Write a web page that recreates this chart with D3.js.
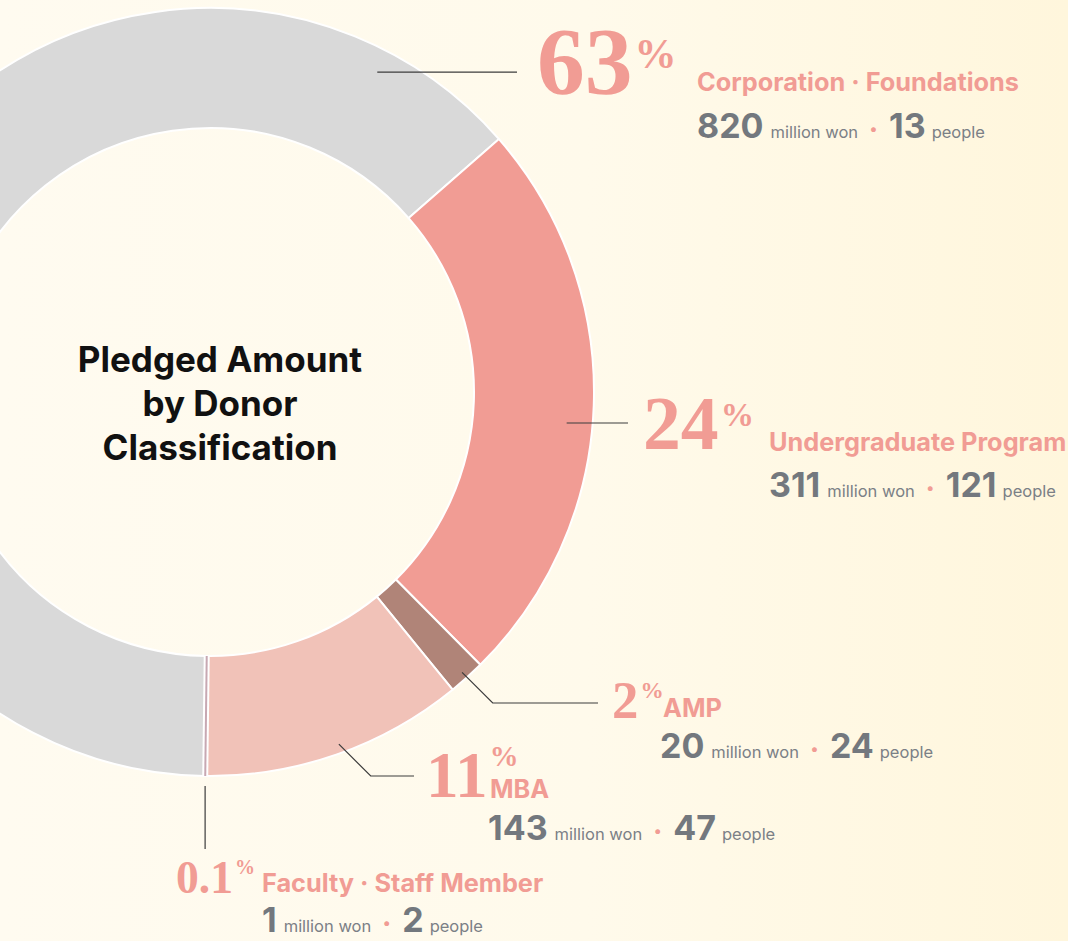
<!DOCTYPE html>
<html>
<head>
<meta charset="utf-8">
<script src="https://cdn.jsdelivr.net/npm/d3@7"></script>
<style>
  body { margin: 0; background: #fffaee; }
  svg { display: block; }
  .title { font-family: Inter, "Noto Sans", sans-serif; font-weight: 700; font-size: 35px; fill: #111; }
  .pctNum { font-family: "Liberation Serif", "DejaVu Serif", serif; font-weight: 700; fill: #f19c94; }
  .catLabel { font-family: Inter, "Noto Sans", sans-serif; font-weight: 700; font-size: 25.3px; fill: #f19c94; }
  .statNum { font-family: Inter, "Noto Sans", sans-serif; font-weight: 700; font-size: 34px; fill: #73787e; }
  .statUnit { font-family: Inter, "Noto Sans", sans-serif; font-weight: 400; font-size: 16.5px; fill: #7b8086; }
  .statDot { font-family: Inter, "Noto Sans", sans-serif; font-weight: 900; font-size: 24px; fill: #f19c94; }
</style>
</head>
<body>
<div id="chart"></div>
<script>
// data
var categories = ["Corporation · Foundations", "Undergraduate Program", "AMP", "MBA", "Faculty · Staff Member"];
var amounts = [820, 311, 20, 143, 1];          // million won
var percents = ["63", "24", "2", "11", "0.1"];  // printed share
var people = [13, 121, 24, 47, 2];
var colors = ["#d9d9d9", "#f19c94", "#b08478", "#f1c2b8", "#c7a8b2"];

// label placement (t = position along the slice, r = radius of leader start)
var labelLayout = [
    { t: 0.907, r: 361, kind: "h", endX: 517, numX: 537, numY: 94, labelX: 697, labelY: 91, statX: 697, statY: 138 },
    { t: 0.534, r: 358, kind: "h", endX: 628, numX: 643, numY: 449, labelX: 769, labelY: 451, statX: 769, statY: 497 },
    { t: 0.5, r: 377, kind: "d", elbowY: 703, endX: 598, numX: 612, numY: 718, labelX: 663, labelY: 717, statX: 660, statY: 758 },
    { t: 0.48, r: 375, kind: "d", elbowY: 776, endX: 414, numX: 426, numY: 797, labelX: 490, labelY: 798, statX: 488, statY: 840, pctDy: -9 },
    { t: 0.5, r: 394, kind: "v", endY: 849, numX: 176, numY: 893, labelX: 262, labelY: 892, statX: 262, statY: 932 }
];

var width = 1068, height = 941;
var cx = 210, cy = 392, outerR = 384, innerR = 264;
var startA = 180.85 * Math.PI / 180;

var svg = d3.select("#chart")
    .append("svg")
    .attr("width", width)
    .attr("height", height);

// background
var grad = svg.append("defs").append("linearGradient")
    .attr("id", "bg").attr("x1", 0).attr("x2", 1).attr("y1", 0).attr("y2", 0);
grad.append("stop").attr("offset", "0%").attr("stop-color", "#fffbf0");
grad.append("stop").attr("offset", "55%").attr("stop-color", "#fffaeb");
grad.append("stop").attr("offset", "100%").attr("stop-color", "#fff6dc");
svg.append("rect").attr("width", width).attr("height", height).attr("fill", "url(#bg)");

var rows = categories.map(function (c, i) {
    return { cat: c, amount: amounts[i], pct: percents[i], people: people[i], color: colors[i], lay: labelLayout[i] };
});

var pie = d3.pie().sort(null).value(function (d) { return d.amount; })
    .startAngle(startA).endAngle(startA + 2 * Math.PI);
var arcs = pie(rows);

var arc = d3.arc().innerRadius(innerR).outerRadius(outerR);

var g = svg.append("g").attr("transform", "translate(" + cx + "," + cy + ")");

// slices wide enough to draw as a wedge
g.selectAll("path.slice")
    .data(arcs.filter(function (d) { return (d.endAngle - d.startAngle) * outerR > 3; }))
    .enter()
    .append("path")
    .attr("class", "slice")
    .attr("d", arc)
    .attr("fill", function (d) { return d.data.color; })
    .attr("stroke", "#ffffff")
    .attr("stroke-width", 2);

// very thin slices: a radial stroke with a white gap each side
var thin = arcs.filter(function (d) { return (d.endAngle - d.startAngle) * outerR <= 3; });
function midA(d) { return (d.startAngle + d.endAngle) / 2; }
[["#ffffff", 6], [null, 2]].forEach(function (s) {
    g.selectAll(null)
        .data(thin)
        .enter()
        .append("line")
        .attr("x1", function (d) { return Math.sin(midA(d)) * innerR; })
        .attr("y1", function (d) { return -Math.cos(midA(d)) * innerR; })
        .attr("x2", function (d) { return Math.sin(midA(d)) * outerR; })
        .attr("y2", function (d) { return -Math.cos(midA(d)) * outerR; })
        .attr("stroke", function (d) { return s[0] || d.data.color; })
        .attr("stroke-width", s[1]);
});

// title in the hole
var titleLines = ["Pledged Amount", "by Donor", "Classification"];
svg.append("text")
    .attr("class", "title")
    .attr("text-anchor", "middle")
    .selectAll("tspan")
    .data(titleLines)
    .enter()
    .append("tspan")
    .attr("x", cx + 10)
    .attr("y", function (d, i) { return 372 + i * 44; })
    .text(function (d) { return d; });

// leader lines
function leaderPoints(d) {
    var L = d.data.lay;
    var a = d.startAngle + L.t * (d.endAngle - d.startAngle);
    var sx = cx + Math.sin(a) * L.r, sy = cy - Math.cos(a) * L.r;
    if (L.kind == "h") return [[sx, sy], [L.endX, sy]];
    if (L.kind == "v") return [[sx, sy], [sx, L.endY]];
    var ex = sx + (L.elbowY - sy);
    return [[sx, sy], [ex, L.elbowY], [L.endX, L.elbowY]];
}

svg.selectAll("path.leader")
    .data(arcs)
    .enter()
    .append("path")
    .attr("class", "leader")
    .attr("d", function (d) { return d3.line()(leaderPoints(d)); })
    .attr("fill", "none")
    .attr("stroke", "#3c3c3c")
    .attr("stroke-width", 1.2);

// size of the big percent figure grows with the share
var digitH = d3.scaleSqrt().domain([0, 63]).range([29.6, 65]);

var labels = svg.selectAll("g.label")
    .data(arcs)
    .enter()
    .append("g")
    .attr("class", "label");

labels.each(function (d) {
    var L = d.data.lay;
    var sel = d3.select(this);
    var h = digitH(+d.data.pct);
    var fs = h / 0.68;

    var num = sel.append("text")
        .attr("class", "pctNum")
        .attr("x", L.numX)
        .attr("y", L.numY)
        .style("font-size", fs + "px")
        .text(d.data.pct);
    var w = num.node().getComputedTextLength();

    var pfs = fs * 0.44;
    var pctTop = L.numY - h + (h - 36) * 0.35 + (L.pctDy || 0);
    sel.append("text")
        .attr("class", "pctNum")
        .attr("x", L.numX + w + 2)
        .attr("y", pctTop + pfs * 0.68)
        .style("font-size", pfs + "px")
        .text("%");

    sel.append("text")
        .attr("class", "catLabel")
        .attr("x", L.labelX)
        .attr("y", L.labelY)
        .text(d.data.cat);

    var st = sel.append("text")
        .attr("x", L.statX)
        .attr("y", L.statY);
    st.append("tspan").attr("class", "statNum").text(d.data.amount);
    st.append("tspan").attr("class", "statUnit").attr("dx", 7).text("million won");
    st.append("tspan").attr("class", "statDot").attr("dx", 11).text("·");
    st.append("tspan").attr("class", "statNum").attr("dx", 11).text(d.data.people);
    st.append("tspan").attr("class", "statUnit").attr("dx", 6).text("people");
});
</script>
</body>
</html>
